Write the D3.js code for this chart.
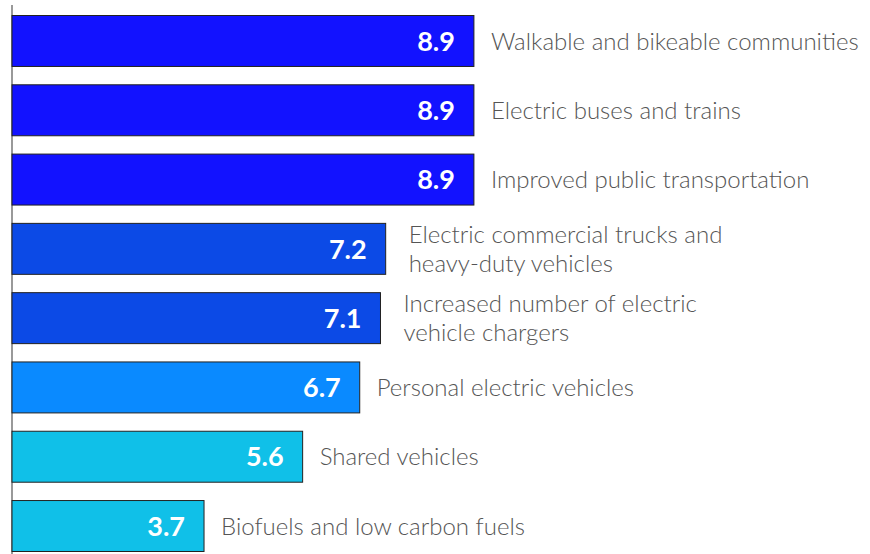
<!DOCTYPE html>
<html>
<head>
<meta charset="utf-8">
<script src="https://cdn.jsdelivr.net/npm/d3@7"></script>
<style>
  body { margin: 0; background: #fff; }
  svg { display: block; }
</style>
</head>
<body>
<div id="chart"></div>
<script>
const categories = [
  ["Walkable and bikeable communities"],
  ["Electric buses and trains"],
  ["Improved public transportation"],
  ["Electric commercial trucks and", "heavy-duty vehicles"],
  ["Increased number of electric", "vehicle chargers"],
  ["Personal electric vehicles"],
  ["Shared vehicles"],
  ["Biofuels and low carbon fuels"]
];
const values = [8.9, 8.9, 8.9, 7.2, 7.1, 6.7, 5.6, 3.7];
const barColors = ["#1212ff", "#1212ff", "#1212ff", "#0c4ae6", "#0c4ae6", "#0a8aff", "#10c0e8", "#10c0e8"];

const width = 870, height = 554;
const x0 = 12;

const svg = d3.select("#chart").append("svg")
  .attr("width", width)
  .attr("height", height);

const x = d3.scaleLinear().domain([0, 10]).range([x0, x0 + 519]);
const y = d3.scaleBand().domain(d3.range(values.length)).range([15, 552]).paddingInner(0.25).paddingOuter(0);

// left axis line
svg.append("line")
  .attr("x1", x0).attr("x2", x0)
  .attr("y1", 5).attr("y2", height)
  .attr("stroke", "#777").attr("stroke-width", 1.5);

const rows = svg.append("g").selectAll("g")
  .data(values)
  .join("g");

rows.append("rect")
  .attr("x", x(0))
  .attr("y", (d, i) => y(i) + 0.5)
  .attr("width", d => x(d) - x(0))
  .attr("height", y.bandwidth() - 1)
  .attr("fill", (d, i) => barColors[i])
  .attr("stroke", "#222")
  .attr("stroke-width", 1);

rows.append("text")
  .attr("x", d => x(d) - 19)
  .attr("y", (d, i) => y(i) + y.bandwidth() / 2)
  .attr("dy", "0.36em")
  .attr("text-anchor", "end")
  .attr("fill", "#fff")
  .style("font-family", "Lato, 'Open Sans', sans-serif")
  .style("font-weight", 700)
  .style("font-size", "27px")
  .text(d => d.toFixed(1));

const lineH = 29;
rows.append("text")
  .attr("x", (d, i) => x(d) + (categories[i].length > 1 ? 23 : 17))
  .attr("y", (d, i) => y(i) + y.bandwidth() / 2 - (categories[i].length - 1) * lineH / 2)
  .attr("fill", "#555")
  .style("font-family", "Lato, 'Open Sans', sans-serif")
  .style("font-weight", 300)
  .style("font-size", "24px")
  .selectAll("tspan")
  .data((d, i) => categories[i])
  .join("tspan")
  .attr("x", function() { return d3.select(this.parentNode).attr("x"); })
  .attr("dy", (t, j) => j === 0 ? "0.36em" : lineH)
  .text(t => t);
</script>
</body>
</html>
